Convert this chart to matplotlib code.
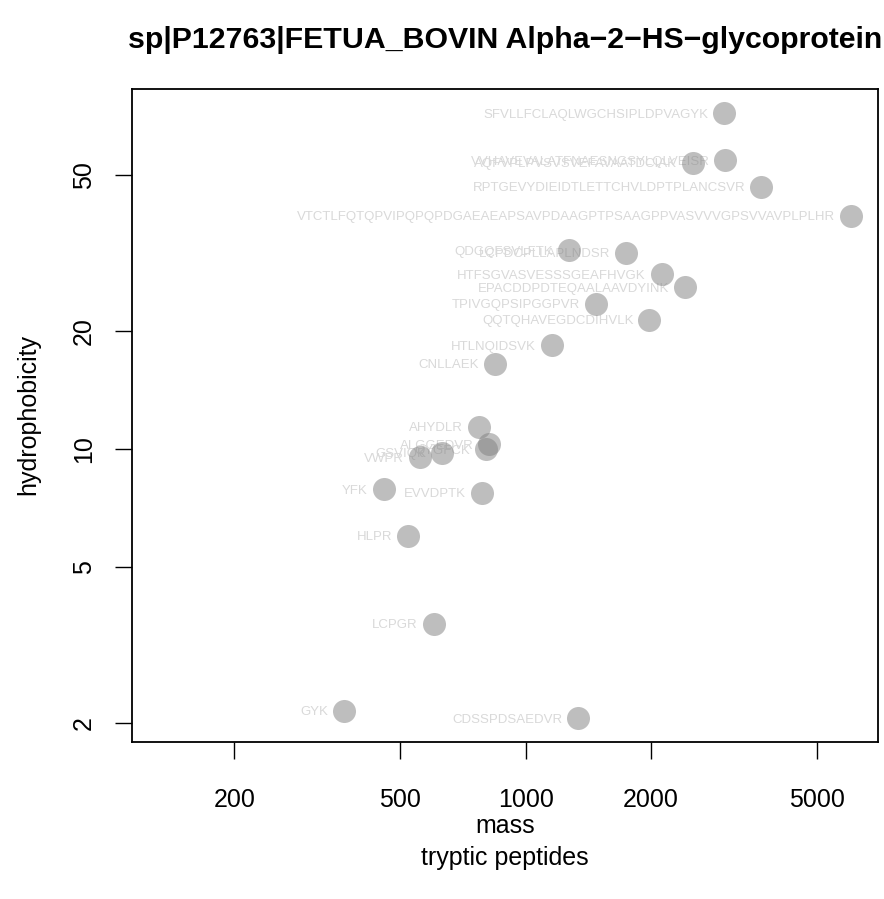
import matplotlib.pyplot as plt
from matplotlib.ticker import FixedLocator, NullLocator, FixedFormatter

plt.rcParams['font.family'] = ['Liberation Sans', 'DejaVu Sans']

# пептиди, маса та гідрофобність
peptides = [
    'SFVLLFCLAQLWGCHSIPLDPVAGYK',
    'VVHAVEVALATFNAESNGSYLQLVEISR',
    'AQFVPLPVSVSVEFAVAATDCIAK',
    'RPTGEVYDIEIDTLETTCHVLDPTPLANCSVR',
    'VTCTLFQTQPVIPQPQPDGAEAEAPSAVPDAAGPTPSAAGPPVASVVVGPSVVAVPLPLHR',
    'QDGQFSVLFTK',
    'LCPDCPLLAPLNDSR',
    'HTFSGVASVESSSGEAFHVGK',
    'EPACDDPDTEQAALAAVDYINK',
    'TPIVGQPSIPGGPVR',
    'QQTQHAVEGDCDIHVLK',
    'HTLNQIDSVK',
    'CNLLAEK',
    'AHYDLR',
    'ALGGEDVR',
    'QYGFCK',
    'GSVIQK',
    'VWPR',
    'YFK',
    'EVVDPTK',
    'HLPR',
    'LCPGR',
    'GYK',
    'CDSSPDSAEDVR',
]
mass = [2990, 3012, 2515, 3674, 6020, 1270, 1740, 2120, 2411, 1474, 1980,
        1154, 845, 774, 818, 804, 631, 558, 457, 787, 523, 602, 367, 1337]
hydrophobicity = [71.8, 54.6, 53.8, 46.7, 39.4, 32.2, 31.7, 27.9, 25.9, 23.5,
                  21.4, 18.4, 16.5, 11.4, 10.3, 10.0, 9.79, 9.52, 7.89, 7.74,
                  6.02, 3.59, 2.15, 2.06]

x_ticks = [200, 500, 1000, 2000, 5000]
y_ticks = [2, 5, 10, 20, 50]

fig = plt.figure(figsize=(8.84, 8.99), dpi=100)
ax = fig.add_axes([132 / 884, 1 - 742 / 899, 746 / 884, 653 / 899])

for name, m, h in zip(peptides, mass, hydrophobicity):
    ax.annotate(name, (m, h), xytext=(-11.5, 0), textcoords='offset points',
                ha='right', va='center_baseline', fontsize=9.5, color='#D9D9D9',
                zorder=2)

ax.scatter(mass, hydrophobicity, s=275, color='#7F7F7F', alpha=0.5,
           linewidths=0, zorder=3)

ax.set_xscale('log')
ax.set_yscale('log')
ax.set_xlim(113.7, 7000)
ax.set_ylim(1.79, 82.9)

ax.xaxis.set_major_locator(FixedLocator(x_ticks))
ax.xaxis.set_major_formatter(FixedFormatter([str(t) for t in x_ticks]))
ax.xaxis.set_minor_locator(NullLocator())
ax.yaxis.set_major_locator(FixedLocator(y_ticks))
ax.yaxis.set_major_formatter(FixedFormatter([str(t) for t in y_ticks]))
ax.yaxis.set_minor_locator(NullLocator())

ax.tick_params(axis='both', length=12, width=1, labelsize=18)
ax.tick_params(axis='x', pad=21)
ax.tick_params(axis='y', pad=14)
for lab in ax.get_yticklabels():
    lab.set_rotation(90)
    lab.set_va('center')

for sp in ax.spines.values():
    sp.set_linewidth(1.3)

fig.text(505 / 884, 1 - 40 / 899, 'sp|P12763|FETUA_BOVIN Alpha\u22122\u2212HS\u2212glycoprotein',
         ha='center', va='center', fontsize=21.8, fontweight='bold')
fig.text(505 / 884, 1 - 826 / 899, 'mass', ha='center', va='center', fontsize=18)
fig.text(505 / 884, 1 - 858 / 899, 'tryptic peptides', ha='center', va='center', fontsize=18)
fig.text(28 / 884, 1 - 415 / 899, 'hydrophobicity', ha='center', va='center',
         rotation=90, fontsize=18)

fig.savefig('out.png', dpi=100)
